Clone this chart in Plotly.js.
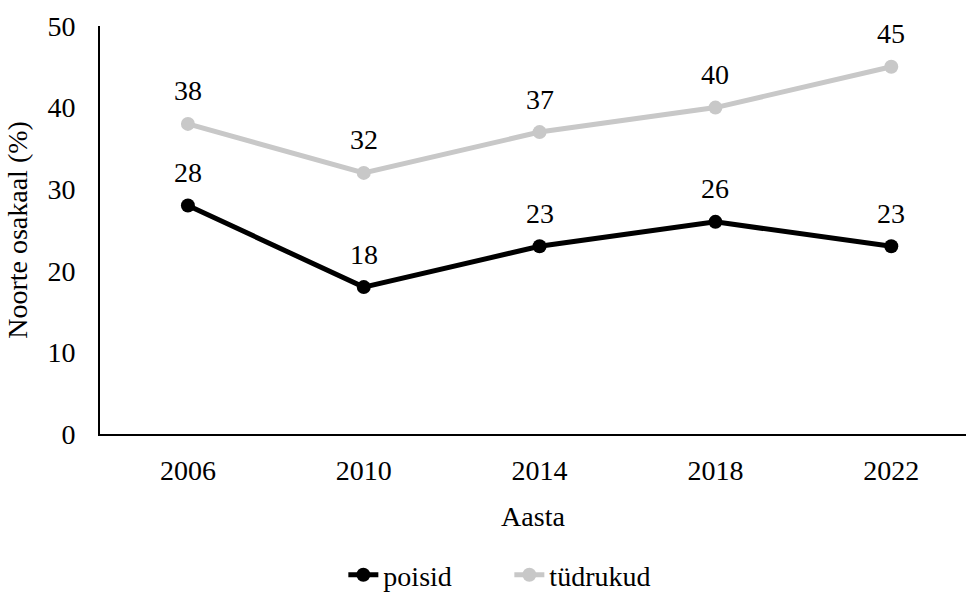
<!DOCTYPE html>
<html>
<head>
<meta charset="utf-8">
<script src="https://cdn.plot.ly/plotly-3.0.1.min.js"></script>
<style>body{margin:0;padding:0;background:#fff;}#chart{width:966px;height:600px;}</style>
</head>
<body>
<div id="chart"></div>
<script>
var years = ['2006', '2010', '2014', '2018', '2022'];
var poisid = [28, 18, 23, 26, 23];
var tudrukud = [38, 32, 37, 40, 45];
var yTicks = [0, 10, 20, 30, 40, 50];

var FONT = 'Liberation Serif, Times New Roman, serif';
var FS = 28;

var traces = [
  {x: years, y: poisid, name: 'poisid', type: 'scatter', mode: 'lines+markers',
   line: {color: '#000000', width: 5}, marker: {color: '#000000', size: 14}},
  {x: years, y: tudrukud, name: 'tüdrukud', type: 'scatter', mode: 'lines+markers',
   line: {color: '#c8c8c8', width: 5}, marker: {color: '#c8c8c8', size: 14}}
];

var annotations = [];
[poisid, tudrukud].forEach(function(arr){
  arr.forEach(function(v, i){
    annotations.push({x: i, y: v, xref: 'x', yref: 'y', text: String(v),
      showarrow: false, yshift: 33, font: {family: FONT, size: FS, color: '#000'}});
  });
});

var layout = {
  width: 966, height: 600,
  margin: {l: 100, r: 0, t: 26, b: 164},
  paper_bgcolor: '#fff', plot_bgcolor: '#fff',
  font: {family: FONT, size: FS, color: '#000'},
  showlegend: true,
  legend: {orientation: 'h', x: 0.281, xanchor: 'left', y: -0.346, yanchor: 'middle',
           entrywidth: 121, entrywidthmode: 'pixels', itemwidth: 30,
           font: {family: FONT, size: FS, color: '#000'}},
  xaxis: {type: 'category', range: [-0.5, 4.425], showgrid: false, zeroline: false,
          showline: true, linecolor: '#000', linewidth: 2, ticks: '',
          ticklabelstandoff: 10,
          tickfont: {family: FONT, size: FS},
          title: {text: 'Aasta', font: {family: FONT, size: FS}, standoff: 22}},
  yaxis: {range: [0, 50], tickvals: yTicks, showgrid: false, zeroline: false,
          showline: true, linecolor: '#000', linewidth: 2, ticks: '',
          ticklabelstandoff: 17,
          tickfont: {family: FONT, size: FS},
          title: {text: 'Noorte osakaal (%)', font: {family: FONT, size: FS}, standoff: 12}},
  annotations: annotations
};

Plotly.newPlot('chart', traces, layout, {displayModeBar: false, staticPlot: true});
</script>
</body>
</html>
